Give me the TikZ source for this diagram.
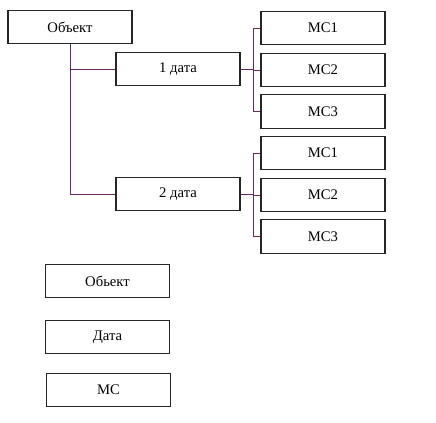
\documentclass[tikz,border=0pt]{standalone}
\usepackage{fontspec}
\setmainfont{Liberation Serif}
\begin{document}
\begin{tikzpicture}[x=0.75pt,y=-0.75pt,
  box/.style={draw=black!85, line width=0.8pt, minimum width=93pt, minimum height=25pt, inner sep=0pt, font=\fontsize{11}{13}\selectfont},
  conn/.style={draw={rgb,255:red,105;green,40;blue,95}, line width=0.7pt}]
\useasboundingbox (0,0) rectangle (436,423);
\node[box] (obj) at (70,27) {Объект};
\node[box] (d1) at (178,69) {1 дата};
\node[box] (d2) at (178,194) {2 дата};
\node[box] (a1) at (323,28) {МС1};
\node[box] (a2) at (323,70) {МС2};
\node[box] (a3) at (323,111.5) {МС3};
\node[box] (b1) at (323,153) {МС1};
\node[box] (b2) at (323,195) {МС2};
\node[box] (b3) at (323,236.5) {МС3};
\node[box] (lo) at (107.5,281) {Обьект};
\node[box] (ld) at (107.5,337) {Дата};
\node[box] (lm) at (108.5,390) {МС};
\coordinate (ba) at (253,0);
\draw[conn] (obj.south) |- (d2.west);
\draw[conn] (obj.south |- d1.west) -- (d1.west);
\draw[conn] (d1.east) -- (d1.east -| ba);
\draw[conn] (a1.west) -- (a1.west -| ba) -- (a3.west -| ba) -- (a3.west);
\draw[conn] (a2.west) -- (a2.west -| ba);
\draw[conn] (d2.east) -- (d2.east -| ba);
\draw[conn] (b1.west) -- (b1.west -| ba) -- (b3.west -| ba) -- (b3.west);
\draw[conn] (b2.west) -- (b2.west -| ba);
\end{tikzpicture}
\end{document}
